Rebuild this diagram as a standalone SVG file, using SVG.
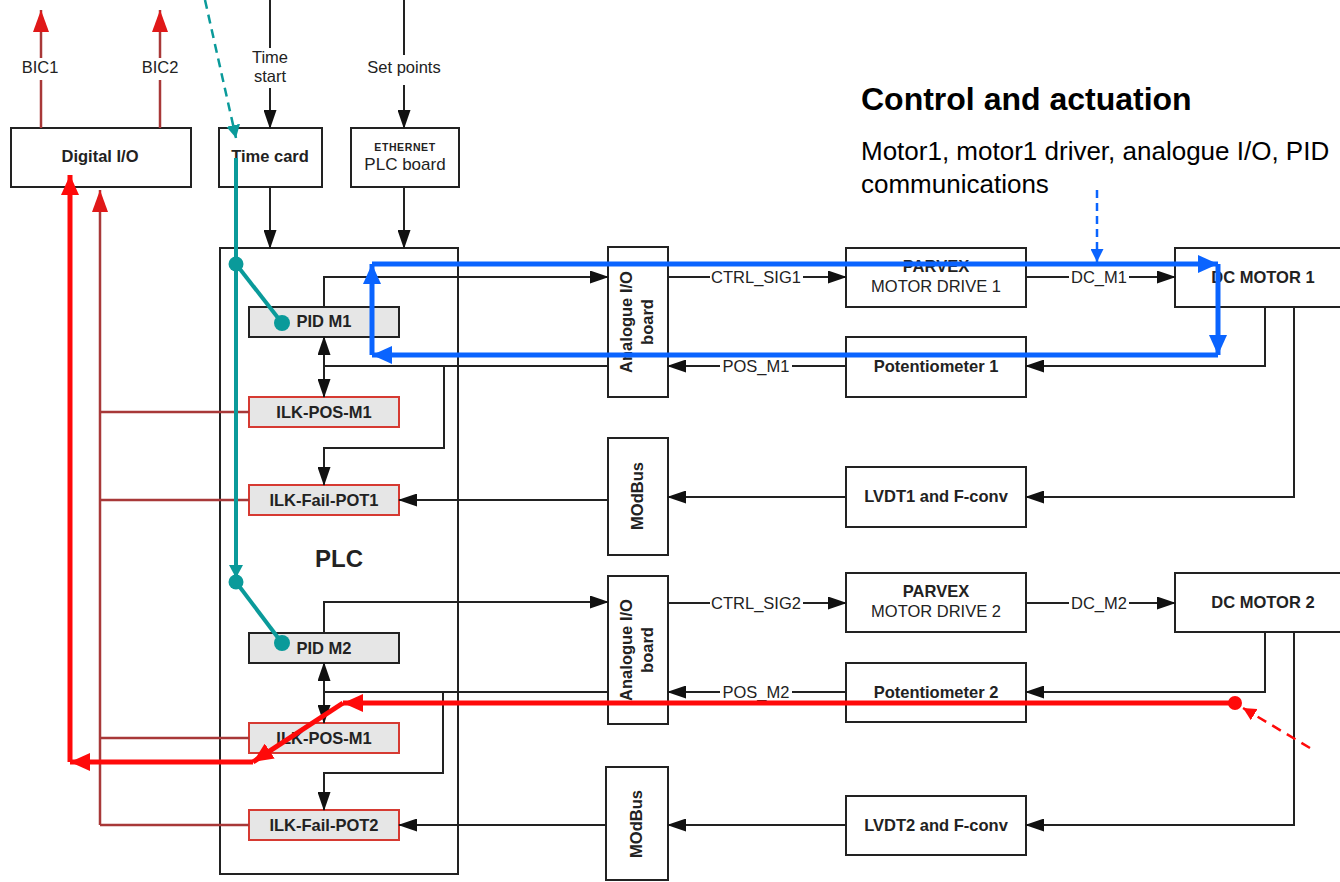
<svg xmlns="http://www.w3.org/2000/svg" width="1340" height="882" viewBox="0 0 1340 882">
<style>
.box{fill:#fff;stroke:#222;stroke-width:2}
.gbox{fill:#e6e6e6;stroke:#222;stroke-width:2}
.rbox{fill:#e6e6e6;stroke:#d63a32;stroke-width:2}
.t{font-family:"Liberation Sans",Arial,sans-serif;font-size:16.5px;fill:#222}
.b{font-weight:bold}
.m{text-anchor:middle}
.ln{fill:none;stroke:#222;stroke-width:2}
.rl{fill:none;stroke:#a83838;stroke-width:2.5}
.blue{fill:none;stroke:#0a64ff;stroke-width:5}
.red{fill:none;stroke:#ff0a0a;stroke-width:5}
.teal{fill:none;stroke:#0a9a9a;stroke-width:4}
</style>
<defs>
<marker id="ab" viewBox="0 0 19 13" refX="18" refY="6.5" markerWidth="19" markerHeight="13" markerUnits="userSpaceOnUse" orient="auto-start-reverse"><path d="M0,0L19,6.5L0,13z" fill="#111"/></marker>
<marker id="abl" viewBox="0 0 20 18" refX="20" refY="9" markerWidth="20" markerHeight="18" markerUnits="userSpaceOnUse" orient="auto"><path d="M0,0L20,9L0,18z" fill="#0a64ff"/></marker>
<marker id="abls" viewBox="0 0 13 13" refX="13" refY="6.5" markerWidth="13" markerHeight="13" markerUnits="userSpaceOnUse" orient="auto"><path d="M0,0L13,6.5L0,13z" fill="#0a64ff"/></marker>
<marker id="ard" viewBox="0 0 20 18" refX="20" refY="9" markerWidth="20" markerHeight="18" markerUnits="userSpaceOnUse" orient="auto"><path d="M0,0L20,9L0,18z" fill="#ff0a0a"/></marker>
<marker id="ards" viewBox="0 0 13 13" refX="13" refY="6.5" markerWidth="13" markerHeight="13" markerUnits="userSpaceOnUse" orient="auto"><path d="M0,0L13,6.5L0,13z" fill="#ff0a0a"/></marker>
<marker id="arb" viewBox="0 0 22 16" refX="22" refY="8" markerWidth="22" markerHeight="16" markerUnits="userSpaceOnUse" orient="auto"><path d="M0,0L22,8L0,16z" fill="#e01818"/></marker>
<marker id="att" viewBox="0 0 13 14" refX="13" refY="7" markerWidth="13" markerHeight="14" markerUnits="userSpaceOnUse" orient="auto"><path d="M0,0L13,7L0,14z" fill="#0a9a9a"/></marker>
</defs>
<rect width="1340" height="882" fill="#fff"/>

<g id="title">
<text x="861" y="110" font-family="Liberation Sans, Arial, sans-serif" font-size="32" font-weight="bold" fill="#000">Control and actuation</text>
<text x="861" y="160" font-family="Liberation Sans, Arial, sans-serif" font-size="26" fill="#000">Motor1, motor1 driver, analogue I/O, PID</text>
<text x="861" y="193" font-family="Liberation Sans, Arial, sans-serif" font-size="26" fill="#000">communications</text>
</g>

<g id="plc"><rect class="box" x="220" y="248" width="238" height="626"/><text class="t b m" x="339" y="567" style="font-size:24px">PLC</text></g>
<g id="digital-io"><rect class="box" x="11" y="128" width="180" height="59"/><text class="t b m" x="100" y="162">Digital I/O</text></g>
<g id="time-card"><rect class="box" x="219" y="128" width="103" height="59"/><text class="t b m" x="270" y="162">Time card</text></g>
<g id="ethernet-plc-board"><rect class="box" x="351" y="128" width="108" height="59"/><text class="t b m" x="405" y="151" style="font-size:10.5px;letter-spacing:0.6px">ETHERNET</text><text class="t m" x="405" y="170" style="font-size:17px">PLC board</text></g>

<g id="pid-m1"><rect class="gbox" x="249" y="307" width="150" height="30"/><text class="t b m" x="324" y="327">PID M1</text></g>
<g id="ilk-pos-m1-a"><rect class="rbox" x="249" y="397" width="150" height="30"/><text class="t b m" x="324" y="418">ILK-POS-M1</text></g>
<g id="ilk-fail-pot1"><rect class="rbox" x="249" y="485" width="150" height="30"/><text class="t b m" x="324" y="506">ILK-Fail-POT1</text></g>
<g id="pid-m2"><rect class="gbox" x="249" y="633" width="150" height="30"/><text class="t b m" x="324" y="654">PID M2</text></g>
<g id="ilk-pos-m1-b"><rect class="rbox" x="249" y="723" width="150" height="30"/><text class="t b m" x="324" y="744">ILK-POS-M1</text></g>
<g id="ilk-fail-pot2"><rect class="rbox" x="249" y="810" width="150" height="30"/><text class="t b m" x="324" y="831">ILK-Fail-POT2</text></g>

<g id="analogue-io-1"><rect class="box" x="608" y="247" width="60" height="150"/><text class="t b m" transform="translate(632,322) rotate(-90)">Analogue I/O</text><text class="t b m" transform="translate(653,322) rotate(-90)">board</text></g>
<g id="modbus-1"><rect class="box" x="608" y="438" width="60" height="117"/><text class="t b m" transform="translate(643,496) rotate(-90)">MOdBus</text></g>
<g id="analogue-io-2"><rect class="box" x="608" y="576" width="60" height="148"/><text class="t b m" transform="translate(632,650) rotate(-90)">Analogue I/O</text><text class="t b m" transform="translate(653,650) rotate(-90)">board</text></g>
<g id="modbus-2"><rect class="box" x="606" y="767" width="62" height="113"/><text class="t b m" transform="translate(642,824) rotate(-90)">MOdBus</text></g>

<g id="parvex-1"><rect class="box" x="846" y="248" width="180" height="59"/><text class="t b m" x="936" y="272">PARVEX</text><text class="t m" x="936" y="292">MOTOR DRIVE 1</text></g>
<g id="potentiometer-1"><rect class="box" x="846" y="337" width="180" height="60"/><text class="t b m" x="936" y="372">Potentiometer 1</text></g>
<g id="lvdt1"><rect class="box" x="846" y="467" width="180" height="60"/><text class="t b m" x="936" y="502">LVDT1 and F-conv</text></g>
<g id="dc-motor-1"><rect class="box" x="1175" y="248" width="180" height="59"/><text class="t b m" x="1263" y="283">DC MOTOR 1</text></g>
<g id="parvex-2"><rect class="box" x="846" y="573" width="180" height="59"/><text class="t b m" x="936" y="597">PARVEX</text><text class="t m" x="936" y="617">MOTOR DRIVE 2</text></g>
<g id="potentiometer-2"><rect class="box" x="846" y="663" width="180" height="59"/><text class="t b m" x="936" y="698">Potentiometer 2</text></g>
<g id="lvdt2"><rect class="box" x="846" y="796" width="180" height="59"/><text class="t b m" x="936" y="831">LVDT2 and F-conv</text></g>
<g id="dc-motor-2"><rect class="box" x="1175" y="573" width="180" height="59"/><text class="t b m" x="1263" y="608">DC MOTOR 2</text></g>

<g id="connectors">
<path class="ln" d="M270,0V48"/><path class="ln" d="M270,88V128" marker-end="url(#ab)"/>
<text class="t m" x="270" y="63">Time</text><text class="t m" x="270" y="82">start</text>
<path class="ln" d="M404,0V55"/><path class="ln" d="M404,85V128" marker-end="url(#ab)"/>
<text class="t m" x="404" y="73">Set points</text>
<path class="ln" d="M270,187V248" marker-end="url(#ab)"/>
<path class="ln" d="M404,187V248" marker-end="url(#ab)"/>
<path class="rl" d="M41,128V80"/><path class="rl" d="M41,58V10" marker-end="url(#arb)"/>
<text class="t m" x="40" y="73">BIC1</text>
<path class="rl" d="M160,128V80"/><path class="rl" d="M160,58V10" marker-end="url(#arb)"/>
<text class="t m" x="160" y="73">BIC2</text>
<path class="rl" d="M100,825V190" marker-end="url(#arb)"/>
<path class="rl" d="M100,412H249M100,500H249M100,738H249M100,825H249"/>
<path class="ln" d="M324,307V277H608" marker-end="url(#ab)"/>
<path class="ln" d="M324,337V397" marker-start="url(#ab)" marker-end="url(#ab)"/>
<path class="ln" d="M608,366H324"/>
<path class="ln" d="M444,366V448H324V485" marker-end="url(#ab)"/>
<path class="ln" d="M608,500H399" marker-end="url(#ab)"/>
<path class="ln" d="M668,277H710"/><path class="ln" d="M803,277H846" marker-end="url(#ab)"/>
<text class="t m" x="756" y="283">CTRL_SIG1</text>
<path class="ln" d="M720,366H668" marker-end="url(#ab)"/><path class="ln" d="M846,366H792"/>
<text class="t m" x="756" y="372">POS_M1</text>
<path class="ln" d="M846,497H668" marker-end="url(#ab)"/>
<path class="ln" d="M1026,277H1069"/><path class="ln" d="M1129,277H1175" marker-end="url(#ab)"/>
<text class="t m" x="1099" y="283">DC_M1</text>
<path class="ln" d="M1265,307V366H1026" marker-end="url(#ab)"/>
<path class="ln" d="M1294,307V497H1026" marker-end="url(#ab)"/>
<path class="ln" d="M324,633V602H608" marker-end="url(#ab)"/>
<path class="ln" d="M324,663V723" marker-start="url(#ab)" marker-end="url(#ab)"/>
<path class="ln" d="M608,692H324"/>
<path class="ln" d="M443,692V773H324V810" marker-end="url(#ab)"/>
<path class="ln" d="M606,825H399" marker-end="url(#ab)"/>
<path class="ln" d="M668,603H710"/><path class="ln" d="M803,603H846" marker-end="url(#ab)"/>
<text class="t m" x="756" y="609">CTRL_SIG2</text>
<path class="ln" d="M720,692H668" marker-end="url(#ab)"/><path class="ln" d="M846,692H792"/>
<text class="t m" x="756" y="698">POS_M2</text>
<path class="ln" d="M846,825H668" marker-end="url(#ab)"/>
<path class="ln" d="M1026,603H1069"/><path class="ln" d="M1129,603H1175" marker-end="url(#ab)"/>
<text class="t m" x="1099" y="609">DC_M2</text>
<path class="ln" d="M1265,632V692H1026" marker-end="url(#ab)"/>
<path class="ln" d="M1294,632V825H1026" marker-end="url(#ab)"/>
<path class="blue" d="M372,355V264" marker-end="url(#abl)"/>
<path class="blue" d="M372,264H1218" marker-end="url(#abl)"/>
<path class="blue" d="M1218,264V355" marker-end="url(#abl)"/>
<path class="blue" d="M1218,355H372" marker-end="url(#abl)"/>
<path d="M1097,190V262" fill="none" stroke="#0a64ff" stroke-width="2.5" stroke-dasharray="8,5" marker-end="url(#abls)"/>
<path d="M205,0L236,138" fill="none" stroke="#0a9a9a" stroke-width="2.5" stroke-dasharray="9,6" marker-end="url(#att)"/>
<path class="teal" d="M236,158V578" marker-end="url(#att)"/>
<path class="teal" d="M236,264L282,323"/>
<path class="teal" d="M236,582L282,643"/>
<circle cx="236" cy="264" r="7.5" fill="#0a9a9a"/><circle cx="282" cy="323" r="8" fill="#0a9a9a"/>
<circle cx="236" cy="582" r="7.5" fill="#0a9a9a"/><circle cx="282" cy="643" r="8" fill="#0a9a9a"/>
<path class="red" d="M1235,703H343" marker-end="url(#ard)"/>
<path class="red" d="M343,703L253,762" marker-end="url(#ard)"/>
<path class="red" d="M253,762H70" marker-end="url(#ard)"/>
<path class="red" d="M70,762V175" marker-end="url(#ard)"/>
<circle cx="1235" cy="703" r="7" fill="#ff0a0a"/>
<path d="M1310,748L1243,708" fill="none" stroke="#ff0a0a" stroke-width="2.5" stroke-dasharray="10,7" marker-end="url(#ards)"/>
</g>
</svg>
